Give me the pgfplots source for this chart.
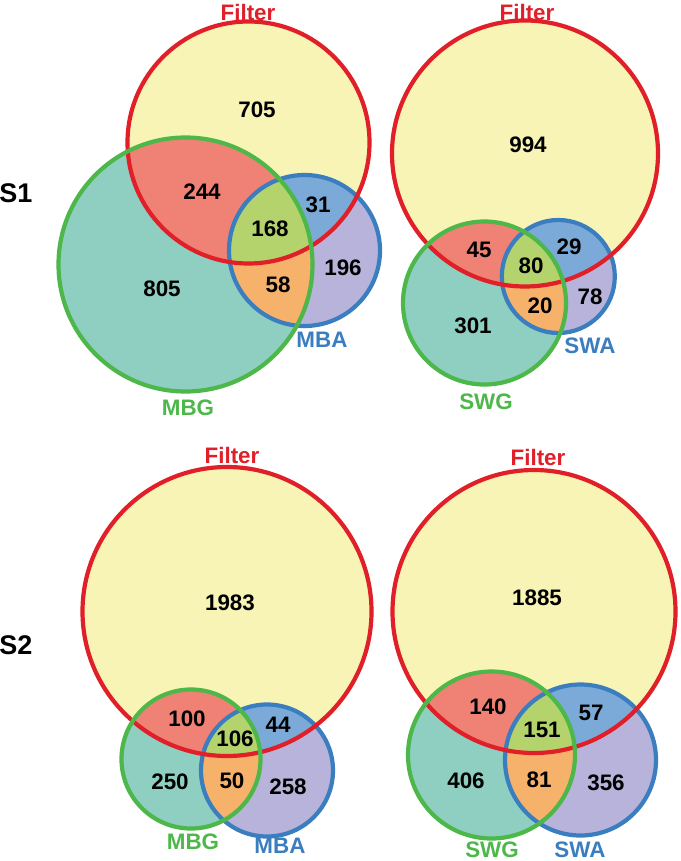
\documentclass[border=0pt]{standalone}
\usepackage{fontspec}
\setmainfont{Liberation Sans}
\usepackage{pgfplots}
\usepackage{pgfplotstable}
\pgfplotsset{compat=1.18}

\definecolor{cyel}{HTML}{F8F4B6}
\definecolor{cteal}{HTML}{8ECFC2}
\definecolor{clav}{HTML}{B7B3DA}
\definecolor{csalm}{HTML}{EF8274}
\definecolor{cblu}{HTML}{7CAAD8}
\definecolor{cygr}{HTML}{B4D36C}
\definecolor{corg}{HTML}{F6B26B}
\definecolor{lred}{HTML}{E01F28}
\definecolor{lgrn}{HTML}{4DB74A}
\definecolor{lblu}{HTML}{3A7EC0}

% region counts, positions in pixel units
\pgfplotstableread{
x y lab
257 110 705
202 192 244
318 205 31
270 229 168
343 268 196
278 285 58
162 289 805
528 145 994
479 250 45
531 266 80
569 247 29
590 297 78
540 306 20
473 326 301
230 603 1983
187 719 100
278 725 44
235 739 106
170 782 250
232 781 50
288 787 258
537 598 1885
488 707 140
591 713 57
542 730 151
466 781 406
539 780 81
606 783 356
}\counts

\pgfplotstableread{
x y lab
248 12 Filter
527 12 Filter
232 455 Filter
538 457 Filter
}\redlabs
\pgfplotstableread{
x y lab
188 408 MBG
486 402 SWG
193 842 MBG
492 850 SWG
}\grnlabs
\pgfplotstableread{
x y lab
322 340 MBA
590 346 SWA
280 846 MBA
580 850 SWA
}\blulabs
\pgfplotstableread{
x y lab
16 193 S1
16 645 S2
}\slabs

% filter circle, G circle, A circle: cx cy r each
\newcommand{\venn}[9]{%
  \fill[cyel] (axis cs:#1,#2) circle[radius=#3];
  \fill[cteal] (axis cs:#4,#5) circle[radius=#6];
  \fill[clav] (axis cs:#7,#8) circle[radius=#9];
  \begin{scope}
    \clip (axis cs:#4,#5) circle[radius=#6];
    \fill[corg] (axis cs:#7,#8) circle[radius=#9];
  \end{scope}
  \begin{scope}
    \clip (axis cs:#1,#2) circle[radius=#3];
    \fill[csalm] (axis cs:#4,#5) circle[radius=#6];
    \fill[cblu] (axis cs:#7,#8) circle[radius=#9];
    \clip (axis cs:#4,#5) circle[radius=#6];
    \fill[cygr] (axis cs:#7,#8) circle[radius=#9];
  \end{scope}
  \draw[lblu, line width=2.1pt] (axis cs:#7,#8) circle[radius=#9];
  \draw[lred, line width=2.1pt] (axis cs:#1,#2) circle[radius=#3];
  \draw[lgrn, line width=2.1pt] (axis cs:#4,#5) circle[radius=#6];
}

\pgfplotsset{lbl/.style={draw=none, mark=none, forget plot,
  nodes near coords, point meta=explicit symbolic,
  nodes near coords style={anchor=center, font=\bfseries\fontsize{11.2}{13}\selectfont}}}

\begin{document}
\begin{tikzpicture}
\begin{axis}[
    scale only axis,
    width=340pt, height=430.5pt,
    xmin=0, xmax=680, ymin=0, ymax=861,
    y dir=reverse,
    hide axis,
    clip=false,
]
\venn{248.5}{142.5}{121}{185.5}{264.5}{127}{304.5}{250.5}{75.5}
\venn{525}{153.5}{133}{484.5}{303}{81.5}{558.3}{276.5}{56.5}
\venn{227}{611.5}{144.5}{191}{759}{69.5}{267}{770.5}{66}
\venn{534}{611.5}{141.5}{491.5}{755}{83.5}{580.5}{760}{75.5}

\addplot[lbl] table[meta=lab] {\counts};
\addplot[lbl, nodes near coords style={text=lred}] table[meta=lab] {\redlabs};
\addplot[lbl, nodes near coords style={text=lgrn}] table[meta=lab] {\grnlabs};
\addplot[lbl, nodes near coords style={text=lblu}] table[meta=lab] {\blulabs};
\addplot[lbl, nodes near coords style={font=\bfseries\fontsize{13.5}{16}\selectfont}] table[meta=lab] {\slabs};
\end{axis}
\pgfresetboundingbox
\path (current axis.south west) rectangle (current axis.north east);
\end{tikzpicture}
\end{document}
